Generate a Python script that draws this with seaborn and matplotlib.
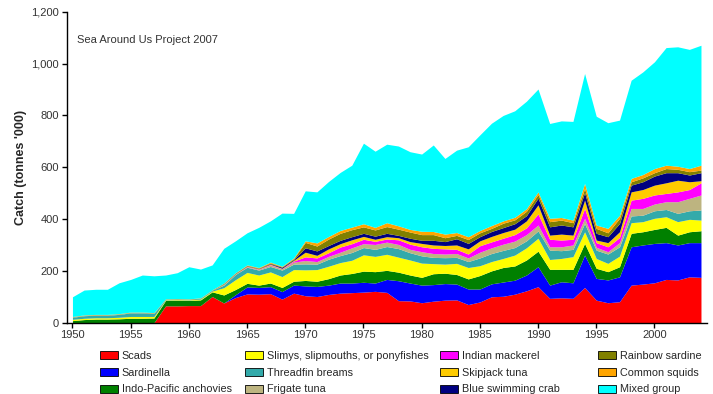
import numpy as np
import matplotlib
matplotlib.use("Agg")
import matplotlib.pyplot as plt
from matplotlib.patches import Patch
from matplotlib.ticker import FuncFormatter, MultipleLocator
import seaborn as sns

sns.set_style("ticks")
plt.rcParams['font.family'] = ['Liberation Sans', 'DejaVu Sans']

# 年份
years = list(range(1950, 2005))

# 各类渔获量（千吨），自下而上堆叠
scads = [0, 0, 0, 0, 0, 0, 0, 0, 65, 65, 66, 66, 101, 76, 97, 111, 110, 112, 91, 114,
         104, 101, 109, 114, 116, 118, 121, 117, 85, 84, 77, 83, 87, 88, 70, 80, 100, 102, 110, 123,
         139, 94, 96, 94, 136, 87, 77, 81, 145, 149, 154, 167, 165, 177, 175]
sardinella = [0, 0, 0, 0, 0, 0, 0, 0, 0, 0, 0, 0, 0, 0, 11, 27, 26, 27, 29, 31,
              38, 39, 36, 39, 37, 38, 32, 50, 77, 69, 68, 64, 64, 61, 60, 50, 50, 55, 54, 61,
              77, 51, 62, 60, 125, 84, 88, 96, 148, 151, 152, 142, 135, 132, 134]
anchovies = [8, 12, 14, 14, 15, 17, 17, 18, 21, 22, 20, 22, 18, 31, 20, 14, 9, 14, 16, 15,
             21, 20, 25, 31, 37, 43, 44, 35, 33, 31, 30, 42, 40, 37, 39, 52, 50, 56, 55, 58,
             60, 61, 48, 52, 45, 39, 32, 39, 52, 51, 54, 59, 38, 42, 46]
slimys = [5, 5, 5, 5, 6, 7, 7, 6, 2, 2, 2, 3, 3, 28, 38, 42, 39, 43, 42, 45,
          41, 45, 48, 48, 51, 63, 59, 62, 58, 58, 55, 39, 35, 43, 44, 38, 36, 35, 42, 47,
          50, 38, 42, 49, 45, 38, 32, 41, 41, 39, 43, 41, 52, 48, 41]
threadfin = [8, 10, 10, 10, 11, 14, 14, 12, 2, 2, 2, 3, 3, 10, 20, 20, 19, 21, 25, 21,
             23, 21, 27, 27, 30, 28, 27, 30, 33, 28, 28, 24, 25, 23, 23, 30, 31, 31, 29, 27,
             28, 36, 30, 28, 32, 32, 36, 36, 26, 25, 29, 28, 32, 33, 39]
frigate = [1, 1, 1, 1, 1, 1, 1, 1, 0, 0, 0, 0, 0, 3, 2, 2, 3, 5, 5, 8,
           13, 10, 11, 13, 18, 15, 19, 17, 16, 13, 16, 15, 14, 15, 14, 22, 22, 24, 25, 24,
           23, 13, 15, 17, 20, 11, 9, 16, 29, 26, 26, 30, 45, 48, 58]
mackerel = [0, 0, 0, 0, 0, 0, 0, 0, 0, 0, 0, 0, 0, 0, 0, 1, 1, 2, 1, 4,
            14, 14, 14, 20, 16, 17, 12, 12, 18, 20, 19, 20, 20, 16, 15, 25, 23, 23, 25, 26,
            43, 29, 26, 22, 38, 18, 19, 20, 32, 39, 35, 32, 38, 34, 47]
skipjack = [0, 0, 0, 0, 0, 0, 0, 0, 0, 0, 0, 0, 0, 1, 1, 1, 1, 2, 1, 3,
            18, 10, 15, 13, 15, 11, 8, 9, 8, 10, 13, 13, 13, 17, 20, 19, 21, 22, 21, 27,
            35, 16, 23, 16, 32, 10, 16, 22, 32, 34, 38, 41, 45, 30, 8]
crab = [0, 0, 0, 0, 0, 0, 0, 0, 0, 0, 0, 0, 0, 1, 1, 1, 1, 2, 4, 3,
        17, 17, 13, 13, 12, 12, 12, 13, 9, 13, 12, 18, 15, 24, 21, 16, 19, 19, 21, 20,
        26, 32, 35, 32, 29, 26, 23, 32, 26, 30, 35, 39, 29, 26, 31]
rainbow = [1, 1, 1, 1, 1, 1, 1, 1, 1, 1, 1, 1, 1, 2, 2, 2, 2, 3, 2, 3,
           21, 19, 25, 27, 27, 25, 24, 26, 24, 24, 22, 22, 15, 13, 15, 15, 12, 17, 15, 17,
           14, 20, 19, 16, 16, 19, 15, 20, 13, 15, 13, 16, 13, 13, 10]
squids = [1, 1, 1, 1, 1, 1, 1, 1, 1, 1, 1, 1, 1, 1, 1, 2, 2, 3, 2, 3,
          6, 12, 10, 11, 10, 12, 10, 15, 13, 10, 13, 12, 14, 11, 11, 9, 11, 9, 10, 10,
          10, 13, 10, 10, 20, 13, 17, 12, 13, 13, 16, 13, 12, 12, 19]
mixed = [76, 96, 97, 97, 119, 126, 143, 142, 92, 100, 124, 111, 96, 134, 123, 124, 155, 159, 205, 172,
         193, 197, 212, 224, 239, 311, 294, 303, 308, 300, 298, 334, 292, 318, 347, 369, 395, 407, 411, 415,
         397, 366, 373, 381, 424, 420, 408, 367, 379, 396, 412, 454, 461, 460, 463]

names = ["Scads", "Sardinella", "Indo-Pacific anchovies",
         "Slimys, slipmouths, or ponyfishes", "Threadfin breams", "Frigate tuna",
         "Indian mackerel", "Skipjack tuna", "Blue swimming crab",
         "Rainbow sardine", "Common squids", "Mixed group"]
colors = ["#ff0000", "#0000ff", "#008000", "#ffff00", "#33aaaa", "#bdb480",
          "#ff00ff", "#ffcc00", "#000080", "#808000", "#ffa500", "#00ffff"]

series = [scads, sardinella, anchovies, slimys, threadfin, frigate,
          mackerel, skipjack, crab, rainbow, squids, mixed]

fig = plt.figure(figsize=(7.13, 3.94), dpi=100)
ax = fig.add_axes([0.0933, 0.181, 0.898, 0.789])

ax.stackplot(years, *series, colors=colors, linewidth=0)

ax.set_xlim(1949.49, 2004.5)
ax.set_ylim(0, 1200)
ax.xaxis.set_major_locator(MultipleLocator(5))
ax.yaxis.set_major_locator(MultipleLocator(200))
ax.yaxis.set_major_formatter(FuncFormatter(lambda v, p: "{:,.0f}".format(v)))
ax.tick_params(axis='both', direction='out', length=3.5, width=1, colors='black',
               labelsize=8, labelcolor='#333333', pad=2)
sns.despine(ax=ax)
for s in ['left', 'bottom']:
    ax.spines[s].set_color('black')
    ax.spines[s].set_linewidth(1)
ax.set_ylabel("Catch (tonnes '000)", fontsize=9, fontweight='bold', labelpad=3)

ax.text((77 - 66.5) / 640.5, 1 - (40 - 11.7) / 311, "Sea Around Us Project 2007",
        transform=ax.transAxes, fontsize=8, color='#333333', va='center')

# 图例分四列放置
col_x = [100, 245, 440, 598]
for k in range(4):
    handles = [Patch(facecolor=colors[i], edgecolor='black', linewidth=0.6, label=names[i])
               for i in range(k * 3, k * 3 + 3)]
    fig.legend(handles=handles, ncol=1, loc='upper left',
               bbox_to_anchor=(col_x[k] / 713, 1 - 351 / 394), frameon=False,
               fontsize=7.8, handlelength=1.7, handleheight=0.8, handletextpad=0.3,
               labelspacing=0.62, borderpad=0, borderaxespad=0)

fig.savefig("out.png", dpi=100)
